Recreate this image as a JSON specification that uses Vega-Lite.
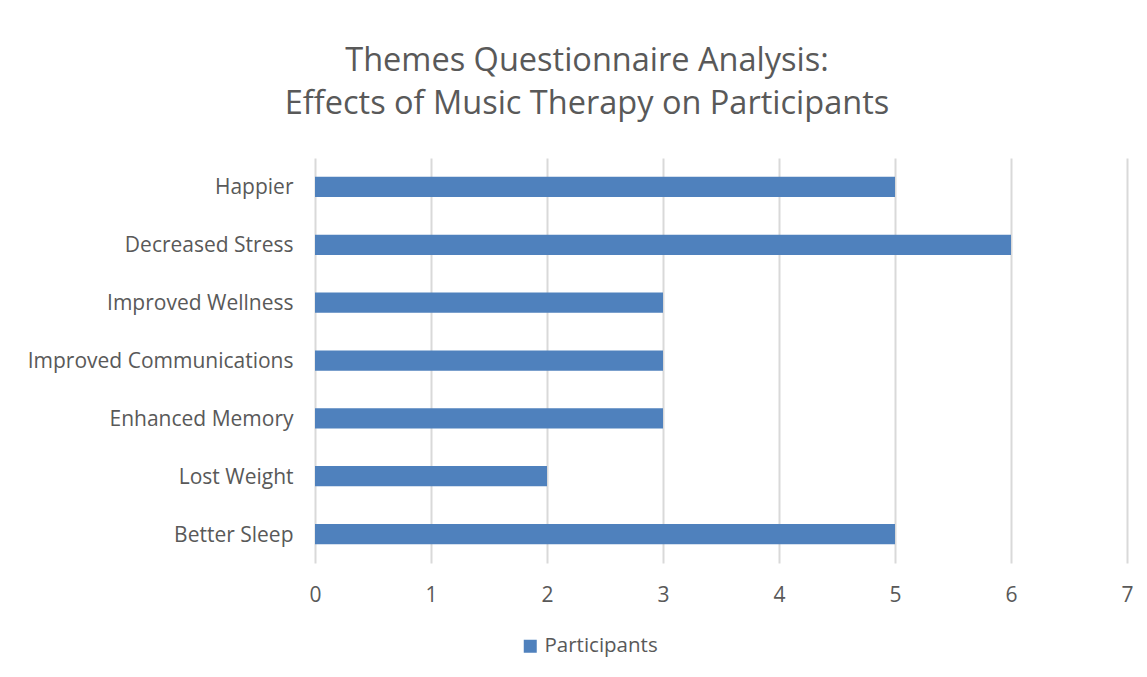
{
  "$schema": "https://vega.github.io/schema/vega-lite/v6.json",
  "width": 812,
  "height": 405,
  "autosize": {"type": "none"},
  "padding": {"left": 315, "top": 158, "right": 20, "bottom": 114},
  "background": "white",
  "title": {
    "text": ["Themes Questionnaire Analysis:", "Effects of Music Therapy on Participants"],
    "font": "Open Sans",
    "fontSize": 32.5,
    "fontWeight": "normal",
    "color": "#595959",
    "anchor": "middle",
    "frame": "group",
    "dx": -134,
    "offset": 38,
    "lineHeight": 43
  },
  "data": {
    "values": [
      {"theme": "Happier", "participants": 5, "series": "Participants"},
      {"theme": "Decreased Stress", "participants": 6, "series": "Participants"},
      {"theme": "Improved Wellness", "participants": 3, "series": "Participants"},
      {"theme": "Improved Communications", "participants": 3, "series": "Participants"},
      {"theme": "Enhanced Memory", "participants": 3, "series": "Participants"},
      {"theme": "Lost Weight", "participants": 2, "series": "Participants"},
      {"theme": "Better Sleep", "participants": 5, "series": "Participants"}
    ]
  },
  "mark": {"type": "bar"},
  "encoding": {
    "y": {
      "field": "theme",
      "type": "nominal",
      "sort": null,
      "scale": {"paddingInner": 0.65, "paddingOuter": 0.325},
      "axis": {
        "title": null,
        "ticks": false,
        "domain": false,
        "grid": false,
        "labelFont": "Open Sans",
        "labelFontSize": 21,
        "labelColor": "#595959",
        "labelPadding": 22,
        "labelOffset": 1.5,
        "labelLimit": 400
      }
    },
    "x": {
      "field": "participants",
      "type": "quantitative",
      "scale": {"domain": [0, 7], "nice": false},
      "axis": {
        "title": null,
        "values": [0, 1, 2, 3, 4, 5, 6, 7],
        "grid": true,
        "gridColor": "#d9d9d9",
        "gridWidth": 2,
        "domain": false,
        "ticks": false,
        "labelFlush": false,
        "labelBound": false,
        "labelFont": "Open Sans",
        "labelFontSize": 21,
        "labelColor": "#595959",
        "labelPadding": 21
      }
    },
    "color": {
      "field": "series",
      "type": "nominal",
      "scale": {"range": ["#4F81BD"]},
      "legend": {
        "orient": "none",
        "legendX": 205,
        "legendY": 478,
        "title": null,
        "padding": 0,
        "symbolType": "square",
        "symbolSize": 169,
        "symbolStrokeWidth": 0,
        "labelFont": "Open Sans",
        "labelFontSize": 20.5,
        "labelColor": "#595959",
        "labelOffset": 4,
        "labelLimit": 300
      }
    }
  },
  "config": {"view": {"stroke": null}}
}
